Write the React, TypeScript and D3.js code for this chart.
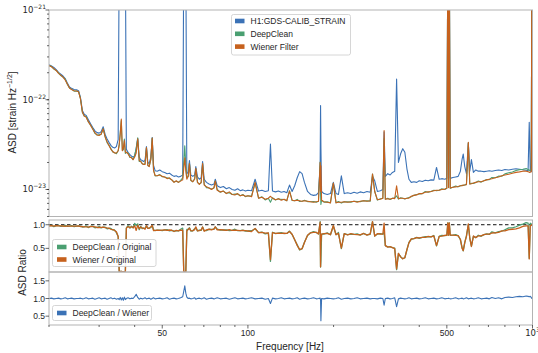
import * as d3 from 'd3';

// frequency grid [Hz] shared by all series
const FREQ = [
  20.0, 20.4, 20.8, 21.2, 21.6, 22.0, 22.4, 22.8, 23.2, 23.6,
  24.0, 24.5, 25.0, 25.4, 25.8, 26.2, 26.6, 27.0, 27.5, 28.0,
  28.5, 29.0, 29.5, 30.0, 30.5, 31.0, 31.5, 32.0, 32.5, 33.0,
  33.5, 34.0, 34.5, 35.0, 35.3, 35.6, 35.9, 36.2, 36.5, 36.8,
  37.1, 37.4, 37.9, 38.5, 39.0, 39.5, 40.0, 40.5, 41.0, 41.5,
  42.0, 42.5, 43.0, 43.5, 44.0, 44.5, 45.0, 45.6, 46.1, 46.6,
  47.2, 48.0, 49.0, 50.0, 51.0, 52.0, 53.0, 54.0, 55.0, 56.0,
  57.0, 58.0, 59.0, 59.5, 60.0, 60.5, 61.0, 61.7, 62.3, 63.0,
  64.0, 65.0, 65.6, 66.5, 67.5, 68.5, 69.3, 70.2, 71.5, 73.0,
  74.5, 76.0, 76.8, 78.0, 80.0, 82.0, 84.0, 86.0, 88.0, 90.0,
  92, 94, 96, 98, 100, 103, 106, 109, 112, 115,
  118, 120, 122, 125, 128, 131, 134, 137, 140, 143,
  146, 149, 152, 155, 158, 162, 166, 170, 174, 177,
  179.4, 180, 180.5, 181.5, 185, 190, 195, 199.6, 204, 208,
  213, 218, 224, 230, 236, 242, 248, 255, 262, 269,
  274, 279, 285, 292, 298, 301, 304, 310, 316, 322,
  328, 333, 338, 344, 350, 356, 362, 368, 375, 383,
  392, 400, 410, 420, 430, 440, 450, 460, 470, 480,
  492, 500, 504, 507, 510, 514, 525, 537, 548, 558,
  566, 571, 578, 586, 595, 602, 610, 620, 632, 645,
  660, 675, 690, 705, 720, 740, 760, 780, 800, 825,
  850, 875, 900, 925, 950, 965, 974, 982, 990, 995,
  1000,
];

// H1:GDS-CALIB_STRAIN ASD, in units of 1e-23 strain/rtHz
const ORIGINAL = [
  24.6, 23.8, 22.9, 21.6, 20.2, 19.3, 18.4, 17.2, 15.4, 13.9,
  13.4, 13.0, 12.9, 12.6, 10.6, 7.6, 6.9, 6.7, 6.0, 5.4,
  4.9, 4.5, 4.3, 4.25, 4.4, 5.0, 4.1, 3.65, 3.35, 3.1,
  2.95, 2.9, 3.0, 3.6, 400, 400, 400, 400, 400, 400,
  400, 2.8, 2.6, 2.45, 2.35, 2.3, 2.35, 2.9, 3.7, 2.3,
  2.15, 2.1, 2.05, 2.1, 3.0, 2.0, 1.95, 2.3, 3.8, 1.85,
  1.62, 1.6, 1.65, 1.58, 1.55, 1.5, 1.52, 1.45, 1.4, 1.42,
  1.38, 1.4, 1.45, 400, 400, 400, 1.5, 1.55, 2.1, 1.45,
  1.4, 1.45, 1.8, 1.38, 1.3, 1.35, 2.05, 1.3, 1.2, 1.15,
  1.12, 1.15, 1.3, 1.1, 1.05, 1.08, 1.02, 1.05, 1.0, 0.98,
  1.02, 0.97, 0.99, 0.96, 0.98, 0.97, 1.3, 0.96, 0.98, 0.95,
  0.97, 3.2, 0.96, 0.94, 0.96, 0.93, 0.95, 0.92, 1.12, 0.95,
  1.1, 1.35, 1.58, 1.5, 1.2, 0.95, 0.88, 0.86, 0.87, 0.92,
  1.9, 8.6, 3.0, 0.95, 0.9, 0.88, 0.9, 1.2, 0.9, 0.88,
  1.42, 0.9, 0.92, 0.9, 0.93, 0.91, 0.94, 0.92, 0.95, 0.93,
  1.4, 1.25, 0.95, 0.97, 1.0, 4.4, 1.4, 1.5, 1.45, 1.55,
  1.6, 17, 2.0, 2.5, 2.85, 2.6, 1.7, 1.3, 1.2, 1.22,
  1.2, 1.25, 1.23, 1.27, 1.25, 1.28, 1.27, 1.76, 1.3, 1.32,
  1.3, 1.33, 500, 1.35, 500, 1.33, 1.36, 1.38, 1.4, 1.6,
  2.2, 2.48, 1.8, 1.5, 3.3, 1.6, 2.15, 1.55, 1.65, 1.6,
  1.6, 1.58, 1.6, 1.62, 1.6, 1.63, 1.65, 1.63, 1.67, 1.65,
  1.68, 1.7, 1.68, 1.66, 1.64, 1.62, 5.6, 1.6, 1.6, 500,
  1.55,
];

// Wiener-filtered ASD, same units
const WIENER = [
  24.0, 23.3, 22.2, 21.2, 19.7, 18.8, 17.9, 16.6, 15.0, 13.5,
  13.0, 12.6, 12.5, 12.3, 10.2, 7.3, 6.6, 6.4, 5.7, 5.2,
  4.7, 4.3, 4.05, 4.0, 4.15, 4.75, 3.85, 3.4, 3.1, 2.8,
  2.65, 2.55, 2.55, 2.7, 3.2, 4.2, 6.1, 2.7, 2.9, 3.5,
  2.6, 2.6, 2.5, 2.3, 2.25, 2.15, 2.3, 2.55, 3.66, 2.1,
  2.05, 1.95, 1.9, 1.9, 2.94, 1.85, 1.8, 2.2, 3.75, 1.62,
  1.43, 1.42, 1.45, 1.4, 1.38, 1.32, 1.35, 1.28, 1.2, 1.25,
  1.2, 1.24, 1.28, 1.7, 2.25, 1.6, 1.3, 1.4, 1.95, 1.27,
  1.22, 1.3, 1.72, 1.2, 1.14, 1.2, 1.95, 1.12, 1.07, 1.04,
  1.0, 1.05, 1.24, 0.98, 0.94, 0.96, 0.9, 0.94, 0.88, 0.87,
  0.9, 0.85, 0.87, 0.84, 0.85, 0.83, 1.2, 0.8, 0.82, 0.78,
  0.8, 0.84, 0.8, 0.77, 0.79, 0.76, 0.78, 0.75, 0.96, 0.76,
  0.75, 0.76, 0.75, 0.74, 0.75, 0.74, 0.73, 0.72, 0.73, 0.74,
  2.0, 0.95, 1.84, 0.76, 0.73, 0.72, 0.71, 1.18, 0.71, 0.72,
  0.72, 0.73, 0.72, 0.73, 0.74, 0.72, 0.74, 0.75, 0.74, 0.75,
  1.49, 0.95, 0.77, 0.78, 0.8, 4.55, 0.78, 0.79, 0.78, 0.8,
  0.79, 1.1, 0.79, 0.8, 0.8, 0.79, 0.8, 0.8, 0.84, 0.86,
  0.87, 0.9, 0.9, 0.93, 0.94, 0.95, 0.97, 0.98, 0.98, 1.0,
  1.01, 1.03, 520, 1.05, 520, 1.04, 1.06, 1.07, 1.08, 1.1,
  1.1, 1.12, 1.12, 1.13, 3.35, 1.15, 1.16, 1.18, 1.2, 1.22,
  1.22, 1.25, 1.28, 1.3, 1.32, 1.35, 1.38, 1.42, 1.45, 1.48,
  1.52, 1.55, 1.57, 1.6, 1.6, 1.58, 1.55, 1.56, 1.58, 500,
  1.55,
];

// DeepClean ASD divided by Wiener ASD
const DC_OVER_WIENER = [
  1.00, 1.01, 0.99, 1.00, 1.01, 0.99, 1.00, 1.02, 0.99, 1.00,
  1.01, 0.99, 1.00, 1.00, 1.01, 0.99, 1.00, 1.02, 0.99, 1.00,
  1.01, 0.98, 1.00, 1.02, 0.99, 1.00, 1.01, 0.98, 1.00, 1.02,
  0.99, 1.01, 0.98, 1.00, 0.97, 1.03, 0.96, 1.02, 0.95, 1.04,
  0.97, 1.00, 1.02, 0.99, 1.01, 1.00, 1.05, 1.12, 1.03, 0.98,
  1.01, 0.99, 1.00, 1.02, 0.99, 1.00, 1.01, 0.98, 1.00, 1.02,
  0.99, 1.00, 1.01, 0.99, 1.00, 1.02, 0.98, 1.00, 1.01, 0.99,
  1.00, 1.02, 1.05, 1.20, 1.36, 1.15, 1.04, 1.00, 1.01, 0.99,
  1.00, 1.02, 0.98, 1.00, 1.01, 0.99, 1.00, 1.02, 0.98, 1.00,
  1.01, 0.99, 1.00, 1.02, 0.99, 1.00, 1.01, 0.98, 1.00, 1.02,
  0.99, 1.00, 1.01, 0.99, 1.00, 1.02, 0.99, 1.00, 1.01, 0.98,
  1.00, 0.86, 1.01, 0.99, 1.00, 1.02, 0.99, 1.00, 1.01, 0.99,
  1.00, 1.02, 0.98, 1.00, 1.01, 0.99, 1.00, 1.02, 0.99, 1.00,
  1.01, 0.95, 0.37, 1.00, 0.99, 1.01, 1.00, 0.99, 1.00, 1.02,
  0.98, 1.00, 1.01, 0.99, 1.00, 1.02, 0.99, 1.00, 1.01, 0.99,
  1.00, 1.00, 0.99, 1.01, 1.00, 0.81, 1.00, 1.01, 0.99, 1.00,
  1.02, 0.77, 0.99, 1.01, 1.00, 0.99, 1.00, 1.02, 0.99, 1.00,
  1.01, 0.99, 1.00, 1.02, 0.99, 1.00, 1.01, 0.99, 1.00, 1.02,
  0.99, 1.00, 1.00, 1.01, 1.00, 0.99, 1.00, 1.02, 0.99, 1.00,
  1.01, 0.99, 1.00, 1.02, 0.99, 1.00, 1.01, 0.99, 1.00, 1.02,
  0.99, 1.00, 1.01, 0.99, 1.03, 1.00, 1.02, 0.99, 1.03, 1.04,
  1.03, 1.05, 1.06, 1.05, 1.07, 1.06, 1.05, 1.06, 1.03, 1.00,
  1.00,
];

const UNIT = 1e-23;
const X_LABELED = [50, 100, 500];
const X_MINOR = [20, 30, 40, 60, 70, 80, 90, 200, 300, 400, 600, 700, 800, 900];
const Y_TOP_EXP = [-21, -22, -23];
const Y_MID_TICKS = [1.0, 0.5];
const Y_BOT_TICKS = [1.5, 1.0, 0.5];

const C_ORIG = '#3b72b6';
const C_DC = '#4a9f71';
const C_WIENER = '#c6611d';
const FRAME = '#b3b3b3';
const INK = '#262626';
const FONT = "'Liberation Sans', Arial, Helvetica, sans-serif";
const MATH = "'DejaVu Sans', sans-serif";

const L = 49, R = 532.5;
const TOP = [10, 216.5];
const MID = [220, 272];
const BOT = [272, 325];

export default function App() {
  const n = Math.min(FREQ.length, ORIGINAL.length, WIENER.length, DC_OVER_WIENER.length);
  const rows = d3.range(n).map(i => {
    const o = ORIGINAL[i] * UNIT;
    const w = WIENER[i] * UNIT;
    const dc = w * DC_OVER_WIENER[i];
    return { f: FREQ[i], o, w, dc, rW: w / o, rDC: dc / o, rDW: DC_OVER_WIENER[i] };
  });

  const x = d3.scaleLog().domain([20, 1000]).range([L, R]);
  const yTop = d3.scaleLog().domain([5e-24, 1e-21]).range([TOP[1], TOP[0]]);
  const yMid = d3.scaleLinear().domain([0, 1.1]).range([MID[1], MID[0]]);
  const yBot = d3.scaleLinear().domain([0.25, 1.75]).range([BOT[1], BOT[0]]);

  const line = (y: any, key: string) =>
    d3.line<any>().x(d => x(d.f)).y(d => y(d[key]))(rows) || '';

  const topMinor: number[] = [];
  for (let e = -24; e <= -22; e++) {
    for (let k = 1; k <= 9; k++) {
      const v = k * Math.pow(10, e);
      if (v >= 5e-24 && v <= 1e-21) topMinor.push(v);
    }
  }

  const legendRow = (x0: number, y: number, color: string, label: string) => (
    <g key={label}>
      <rect x={x0} y={y - 2.3} width={9.5} height={4.6} fill={color} />
      <text x={x0 + 15.5} y={y + 3} fontSize={8.5} fill={INK} fontFamily={FONT}>{label}</text>
    </g>
  );

  const yTickLine = (y: number, len: number, key: string) => (
    <line key={key} x1={L - len} x2={L} y1={y} y2={y} stroke={INK} strokeWidth={0.7} />
  );

  return (
    <svg width={538} height={353} style={{ position: 'absolute', left: 0, top: 0, background: '#fff' }}>
      <defs>
        <clipPath id="clipTop"><rect x={L} y={TOP[0]} width={R - L} height={TOP[1] - TOP[0]} /></clipPath>
        <clipPath id="clipMid"><rect x={L} y={MID[0]} width={R - L} height={MID[1] - MID[0]} /></clipPath>
        <clipPath id="clipBot"><rect x={L} y={BOT[0]} width={R - L} height={BOT[1] - BOT[0]} /></clipPath>
      </defs>

      {/* top panel: ASD */}
      <g clipPath="url(#clipTop)" fill="none" strokeWidth={1.1} strokeLinejoin="round">
        <path d={line(yTop, 'o')} stroke={C_ORIG} />
        <path d={line(yTop, 'dc')} stroke={C_DC} />
        <path d={line(yTop, 'w')} stroke={C_WIENER} />
      </g>

      {/* middle panel: ratios to original */}
      <g clipPath="url(#clipMid)" fill="none" strokeWidth={1.3} strokeLinejoin="round">
        <line x1={L} x2={R} y1={yMid(1)} y2={yMid(1)} stroke="#111" strokeWidth={1} strokeDasharray="3.5,2.5" />
        <path d={line(yMid, 'rDC')} stroke={C_DC} />
        <path d={line(yMid, 'rW')} stroke={C_WIENER} />
      </g>

      {/* bottom panel: DeepClean / Wiener */}
      <g clipPath="url(#clipBot)" fill="none" strokeWidth={1.1} strokeLinejoin="round">
        <path d={line(yBot, 'rDW')} stroke={C_ORIG} />
      </g>

      {/* frames */}
      <rect x={L} y={TOP[0]} width={R - L} height={TOP[1] - TOP[0]} fill="none" stroke={FRAME} />
      <rect x={L} y={MID[0]} width={R - L} height={MID[1] - MID[0]} fill="none" stroke={FRAME} />
      <rect x={L} y={BOT[0]} width={R - L} height={BOT[1] - BOT[0]} fill="none" stroke={FRAME} />

      {/* top y axis */}
      {topMinor.map((v, i) => yTickLine(yTop(v), 2, 'tm' + i))}
      {Y_TOP_EXP.map(e => (
        <g key={'te' + e}>
          {yTickLine(yTop(Math.pow(10, e)), 3.5, 'tl' + e)}
          <text x={46} y={yTop(Math.pow(10, e)) + 3} textAnchor="end" fontSize={8.5} fill={INK} fontFamily={MATH}>
            10<tspan dy={-4} fontSize={6}>{'\u2212' + Math.abs(e)}</tspan>
          </text>
        </g>
      ))}

      {/* ratio y axes */}
      {Y_MID_TICKS.map(v => (
        <g key={'ym' + v}>
          {yTickLine(yMid(v), 3.5, 'yml' + v)}
          <text x={45} y={yMid(v) + 3} textAnchor="end" fontSize={8.5} fill={INK} fontFamily={FONT}>{v.toFixed(1)}</text>
        </g>
      ))}
      {Y_BOT_TICKS.map(v => (
        <g key={'yb' + v}>
          {yTickLine(yBot(v), 3.5, 'ybl' + v)}
          <text x={45} y={yBot(v) + 3} textAnchor="end" fontSize={8.5} fill={INK} fontFamily={FONT}>{v.toFixed(1)}</text>
        </g>
      ))}

      {/* x axis */}
      {X_MINOR.map(f => (
        <line key={'xm' + f} x1={x(f)} x2={x(f)} y1={BOT[1]} y2={BOT[1] + 2} stroke={INK} strokeWidth={0.7} />
      ))}
      {[...X_LABELED, 1000].map(f => (
        <line key={'xl' + f} x1={x(f)} x2={x(f)} y1={BOT[1]} y2={BOT[1] + 3.5} stroke={INK} strokeWidth={0.7} />
      ))}
      {X_LABELED.map(f => (
        <text key={'xt' + f} x={x(f)} y={335.5} textAnchor="middle" fontSize={8.5} fill={INK} fontFamily={FONT}>{f}</text>
      ))}
      <text x={x(1000)} y={335.5} textAnchor="middle" fontSize={8.5} fill={INK} fontFamily={MATH}>
        10<tspan dy={-4} fontSize={6}>3</tspan>
      </text>

      {/* axis labels */}
      <text x={290} y={349.5} textAnchor="middle" fontSize={10} fill={INK} fontFamily={FONT}>Frequency [Hz]</text>
      <text transform="translate(16,112.5) rotate(-90)" textAnchor="middle" fontSize={10} fill={INK} fontFamily={FONT}>
        ASD [strain Hz<tspan dy={-4} fontSize={7}>{'\u22121/2'}</tspan><tspan dy={4}>]</tspan>
      </text>
      <text transform="translate(26,272.5) rotate(-90)" textAnchor="middle" fontSize={10} fill={INK} fontFamily={FONT}>ASD Ratio</text>

      {/* legends */}
      <rect x={231.5} y={14.5} width={119} height={40.5} rx={2} fill="#fff" fillOpacity={0.9} stroke="#cccccc" strokeWidth={0.8} />
      {legendRow(235, 21, C_ORIG, 'H1:GDS-CALIB_STRAIN')}
      {legendRow(235, 33.8, C_DC, 'DeepClean')}
      {legendRow(235, 46.6, C_WIENER, 'Wiener Filter')}

      <rect x={52.5} y={239.5} width={103.5} height={27} rx={2} fill="#fff" fillOpacity={0.9} stroke="#cccccc" strokeWidth={0.8} />
      {legendRow(57, 247, C_DC, 'DeepClean / Original')}
      {legendRow(57, 259.5, C_WIENER, 'Wiener / Original')}

      <rect x={52.5} y={305.5} width={99} height={15} rx={2} fill="#fff" fillOpacity={0.9} stroke="#cccccc" strokeWidth={0.8} />
      {legendRow(57, 313, C_ORIG, 'DeepClean / Wiener')}
    </svg>
  );
}
